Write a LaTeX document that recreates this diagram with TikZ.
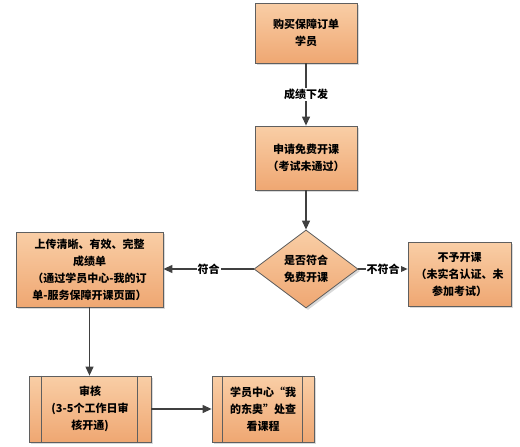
\documentclass[tikz,border=0pt]{standalone}
\usepackage{fontspec}
\setmainfont{Noto Sans CJK SC}
\usetikzlibrary{shapes.geometric,arrows.meta,shadows}
\definecolor{boxtop}{RGB}{249,206,166}
\definecolor{boxbot}{RGB}{239,167,114}
\definecolor{edge}{RGB}{95,95,95}

\begin{document}
\begin{tikzpicture}[x=1pt,y=-1pt,
  box/.style={draw=edge, line width=0.8pt, top color=boxtop, bottom color=boxbot,
    drop shadow={shadow xshift=2pt,shadow yshift=-2pt,opacity=0.3},
    align=center, font=\fontsize{11}{17}\selectfont\bfseries, inner sep=1pt},
  judgebox/.style={box, diamond, minimum width=104pt, minimum height=78pt, aspect=1.3, inner sep=0pt},
  conn/.style={draw=black!75, line width=1.2pt, -{Triangle[length=9pt,width=8pt]}},
  lbl/.style={fill=white, inner sep=1pt, font=\fontsize{11}{13}\selectfont\bfseries}]

\useasboundingbox (0,0) rectangle (520,447);

\node[box, minimum width=102pt, minimum height=60pt] (buy) at (306,33) {购买保障订单\\学员};
\node[box, minimum width=102pt, minimum height=64pt] (apply) at (306,158) {申请免费开课\\（考试未通过）};
\node[judgebox] (judge) at (306,269) {是否符合\\免费开课};
\node[box, minimum width=147pt, minimum height=75pt] (upload) at (89.5,269.5)
  {上传清晰、有效、完整\\成绩单\\（通过学员中心-我的订\\单-服务保障开课页面）};
\node[box, minimum width=103pt, minimum height=64pt] (refuse) at (459.5,274)
  {不予开课\\（未实名认证、未\\参加考试）};
\node[box, minimum width=122pt, minimum height=66pt] (check) at (90,409)
  {审核\\(3-5个工作日审\\核开通)};
\node[box, minimum width=102pt, minimum height=66pt] (view) at (263,409)
  {学员中心“我\\的东奥”处查\\看课程};

% side bars of the process boxes
\draw[edge, line width=0.8pt] ([xshift=13pt]check.north west) -- ([xshift=13pt]check.south west);
\draw[edge, line width=0.8pt] ([xshift=-14pt]check.north east) -- ([xshift=-14pt]check.south east);
\draw[edge, line width=0.8pt] ([xshift=11pt]view.north west) -- ([xshift=11pt]view.south west);
\draw[edge, line width=0.8pt] ([xshift=-12pt]view.north east) -- ([xshift=-12pt]view.south east);

\draw[conn] (buy) -- node[lbl] {成绩下发} (apply);
\draw[conn] (apply) -- (judge);
\draw[conn] (judge.west) -- node[lbl] {符合} (judge.west -| upload.east);
\draw[conn] (judge.east) -- node[lbl] {不符合} (judge.east -| refuse.west);
\draw[conn] (upload.south) -- (upload.south |- check.north);
\draw[conn] (check.east) -- (check.east -| view.west);
\end{tikzpicture}
\end{document}
